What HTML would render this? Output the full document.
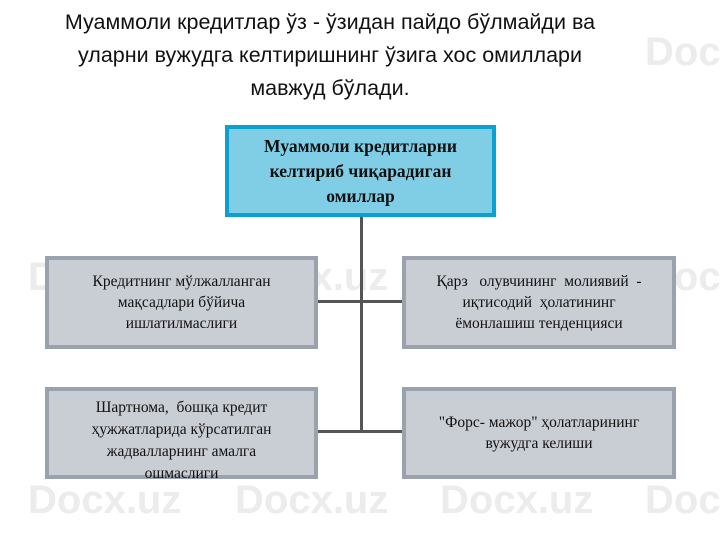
<!DOCTYPE html>
<html><head><meta charset="utf-8"><style>
html,body{margin:0;width:720px;height:540px;overflow:hidden}
body{background:#fff;position:relative;font-family:"Liberation Serif",serif}
.wrap{position:absolute;left:0;top:0;width:720px;height:540px;overflow:hidden}
.t{position:absolute;left:0;width:660px;top:6px;text-align:center;font-family:"Liberation Sans",sans-serif;font-size:21.5px;line-height:33px;color:#111}
.b{position:absolute;box-sizing:border-box;border:4px solid #9aa3ad;background:#c9cdd4;display:flex;align-items:center;justify-content:center;text-align:center;font-size:15.5px;line-height:21px;color:#111;padding:0 6px;white-space:nowrap}
.l{position:absolute;background:#555}
.w{position:absolute;font-family:"Liberation Sans",sans-serif;font-size:40px;color:#ececec;font-weight:bold;white-space:nowrap}
</style></head><body><div class="wrap">
<div class="w" style="left:28px;top:255px">Docx.uz</div>
<div class="w" style="left:235px;top:255px">Docx.uz</div>
<div class="w" style="left:440px;top:255px">Docx.uz</div>
<div class="w" style="left:645px;top:255px">Docx</div>
<div class="w" style="left:645px;top:30px">Docx</div>
<div class="w" style="left:28px;top:478px">Docx.uz</div>
<div class="w" style="left:235px;top:478px">Docx.uz</div>
<div class="w" style="left:440px;top:478px">Docx.uz</div>
<div class="w" style="left:645px;top:478px">Docx</div>
<div class="t">Муаммоли кредитлар ўз - ўзидан пайдо бўлмайди ва<br>уларни вужудга келтиришнинг ўзига хос омиллари<br>мавжуд бўлади.</div>
<div class="l" style="left:360px;top:217px;width:3px;height:216px"></div>
<div class="l" style="left:317px;top:300px;width:85px;height:3px"></div>
<div class="l" style="left:317px;top:430px;width:85px;height:3px"></div>
<div class="b" style="left:225px;top:125px;width:271px;height:92px;border-color:#0aa0d0;background:#80cde6;font-weight:bold;font-size:17.5px;line-height:25px">Муаммоли кредитларни<br>келтириб чиқарадиган<br>омиллар</div>
<div class="b" style="left:45px;top:256px;width:273px;height:93px">Кредитнинг мўлжалланган<br>мақсадлари бўйича<br>ишлатилмаслиги</div>
<div class="b" style="left:402px;top:256px;width:274px;height:93px">Қарз&nbsp;&nbsp; олувчининг&nbsp; молиявий&nbsp; -<br>иқтисодий&nbsp; ҳолатининг<br>ёмонлашиш тенденцияси</div>
<div class="b" style="left:45px;top:387px;width:273px;height:92px;line-height:22px;align-items:flex-start;padding-top:6px">Шартнома,&nbsp; бошқа кредит<br>ҳужжатларида кўрсатилган<br>жадвалларнинг амалга<br>ошмаслиги</div>
<div class="b" style="left:402px;top:387px;width:274px;height:92px">"Форс- мажор" ҳолатларининг<br>вужудга келиши</div>
</div></body></html>
